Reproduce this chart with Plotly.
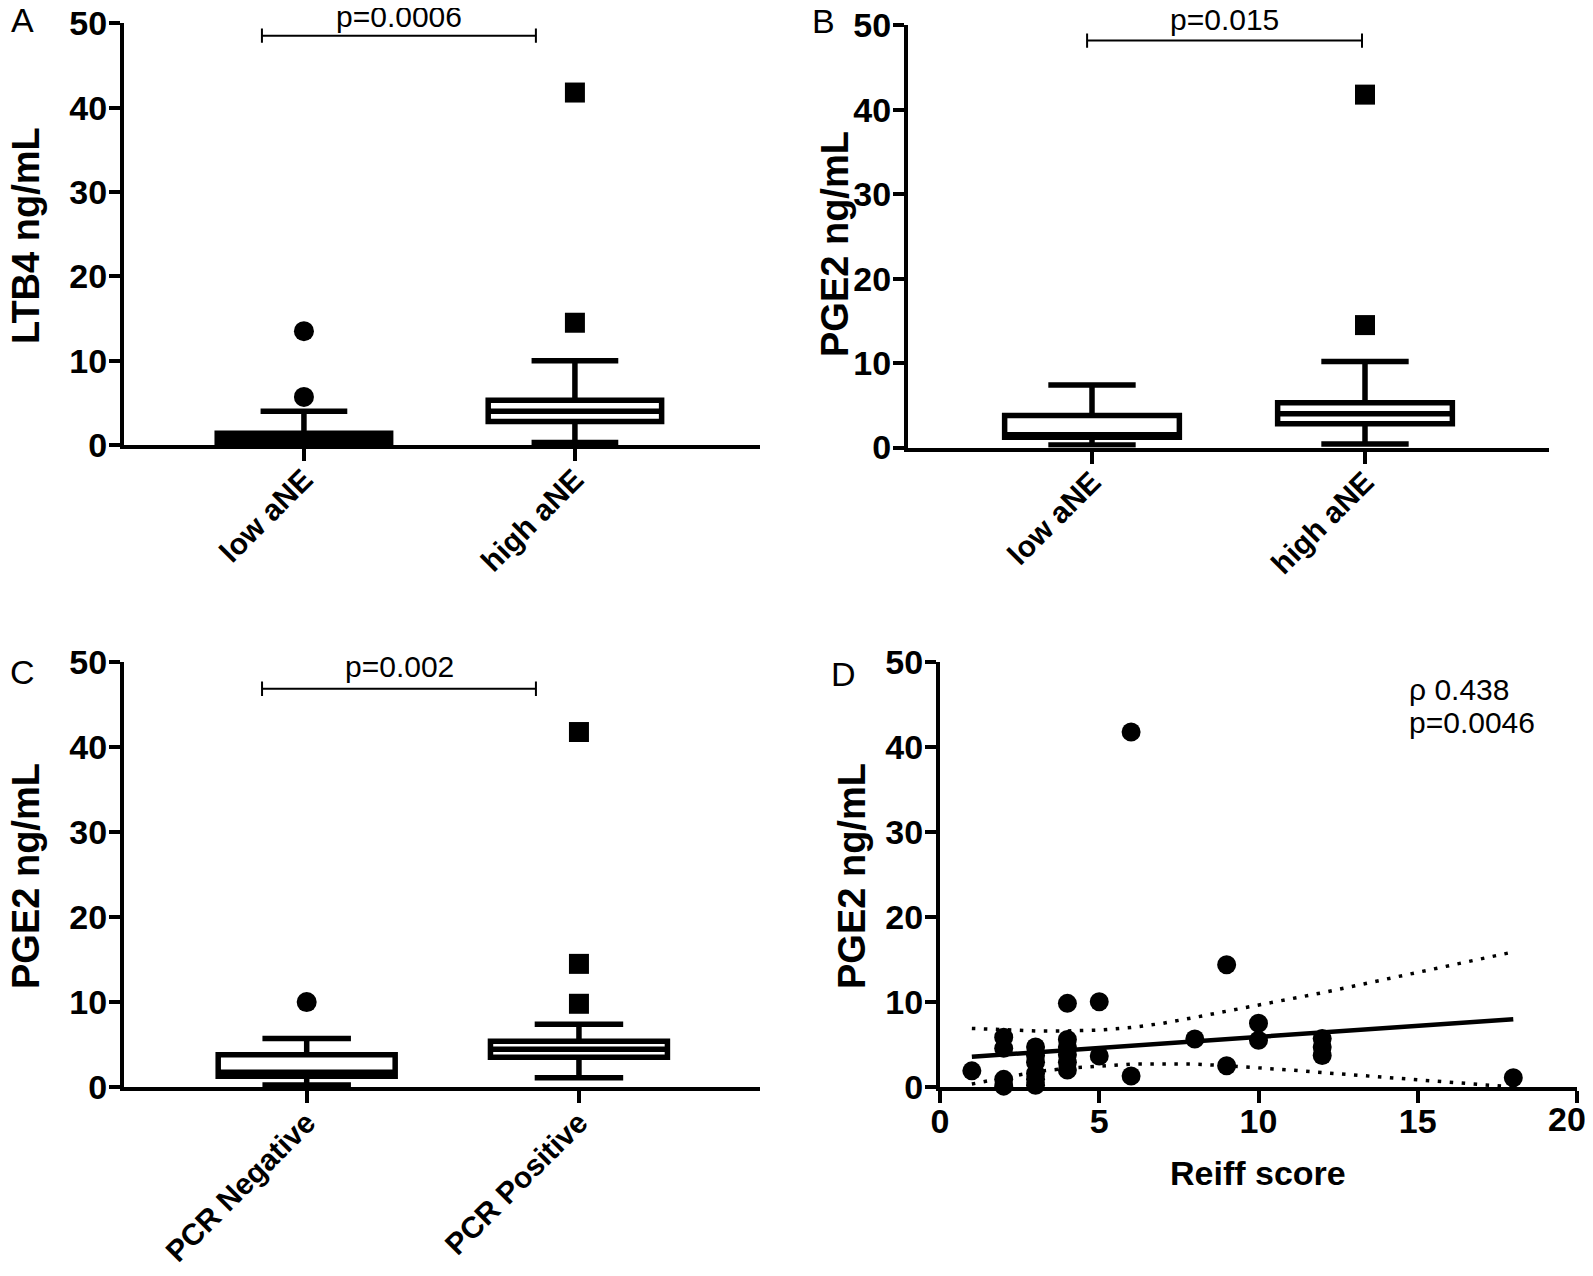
import plotly.graph_objects as go

# ---------------- data ----------------
ane_cats = ["low aNE", "high aNE"]
pcr_cats = ["PCR Negative", "PCR Positive"]
y_ticks = [0, 10, 20, 30, 40, 50]
reiff_ticks = [0, 5, 10, 15, 20]

# Panel A: LTB4 by aNE (low, high)
ltb4_q1 = [0.2, 2.8]
ltb4_median = [0.8, 4.0]
ltb4_q3 = [1.4, 5.3]
ltb4_lower = [0.05, 0.3]
ltb4_upper = [4.0, 10.0]
ltb4_out_low = [5.7, 13.5]
ltb4_out_high = [14.5, 41.8]

# Panel B: PGE2 by aNE (low, high)
pge2_ane_q1 = [1.2, 2.8]
pge2_ane_median = [1.5, 4.0]
pge2_ane_q3 = [3.8, 5.3]
pge2_ane_lower = [0.3, 0.4]
pge2_ane_upper = [7.4, 10.2]
pge2_ane_out_high = [14.5, 41.8]

# Panel C: PGE2 by PCR (negative, positive)
pge2_pcr_q1 = [1.26, 3.5]
pge2_pcr_median = [1.73, 4.45]
pge2_pcr_q3 = [3.8, 5.4]
pge2_pcr_lower = [0.25, 1.1]
pge2_pcr_upper = [5.7, 7.4]
pge2_pcr_out_neg = [10.0]
pge2_pcr_out_pos = [9.8, 14.5, 41.8]

# Panel D: PGE2 vs Reiff score
reiff = [1, 2, 2, 2, 2, 3, 3, 3, 3, 3, 3, 4, 4, 4, 4, 4, 4, 5, 5, 6, 6, 8, 9, 9, 10, 10, 12, 12, 12, 18]
pge2_reiff = [1.9, 5.85, 4.55, 0.9, 0.1, 4.7, 3.7, 2.9, 1.6, 0.9, 0.2, 9.85, 5.6, 4.7, 3.8, 2.9, 2.0,
              10.05, 3.65, 41.8, 1.3, 5.65, 14.4, 2.5, 7.5, 5.5, 5.7, 4.7, 3.7, 1.1]
fit_x = [1, 18]
fit_y = [3.57, 7.97]
ci_x = [1, 2, 3, 4, 5, 6, 7, 8, 9, 10, 11, 12, 13, 14, 15, 16, 17, 18]
ci_upper = [6.9, 6.7, 6.6, 6.6, 6.7, 7.0, 7.5, 8.2, 8.9, 9.6, 10.3, 11.1, 11.9, 12.7, 13.5, 14.3, 15.1, 15.9]
ci_lower = [0.35, 1.1, 1.8, 2.2, 2.5, 2.7, 2.7, 2.7, 2.5, 2.3, 2.0, 1.7, 1.4, 1.1, 0.8, 0.5, 0.2, 0.0]

# ---------------- layout helpers ----------------
OFF = 8            # default page margin around the figure
FW, FH = 1585, 1260


def px(x):
    return (x - OFF) / FW


def py(y):
    return min(1.0, max(0.0, 1 - (y - OFF) / FH))


FONT = "Liberation Sans, Arial, Helvetica, sans-serif"
BLACK = "black"

fig = go.Figure()


def add_box(ax, q1, med, q3, lo, hi, width):
    fig.add_trace(go.Box(
        x=[0, 1], q1=q1, median=med, q3=q3, lowerfence=lo, upperfence=hi,
        width=width, whiskerwidth=0.5, boxpoints=False,
        line=dict(color=BLACK, width=5.5), fillcolor="white",
        xaxis="x" + ax, yaxis="y" + ax, showlegend=False, hoverinfo="skip"))


def add_pts(ax, xpos, vals, symbol, size=20):
    fig.add_trace(go.Scatter(
        x=[xpos] * len(vals), y=vals, mode="markers",
        marker=dict(symbol=symbol, size=size, color=BLACK),
        xaxis="x" + ax, yaxis="y" + ax, showlegend=False, cliponaxis=False))


# Panel A
add_box("", ltb4_q1, ltb4_median, ltb4_q3, ltb4_lower, ltb4_upper, 0.64)
add_pts("", 0, ltb4_out_low, "circle")
add_pts("", 1, ltb4_out_high, "square")
# Panel B
add_box("2", pge2_ane_q1, pge2_ane_median, pge2_ane_q3, pge2_ane_lower, pge2_ane_upper, 0.64)
add_pts("2", 1, pge2_ane_out_high, "square")
# Panel C
add_box("3", pge2_pcr_q1, pge2_pcr_median, pge2_pcr_q3, pge2_pcr_lower, pge2_pcr_upper, 0.65)
add_pts("3", 0, pge2_pcr_out_neg, "circle")
add_pts("3", 1, pge2_pcr_out_pos, "square")
# Panel D
dot = dict(color=BLACK, width=3.5, dash="3.5px,8.5px")
fig.add_trace(go.Scatter(x=ci_x, y=ci_upper, mode="lines", line=dot,
                         xaxis="x4", yaxis="y4", showlegend=False))
fig.add_trace(go.Scatter(x=ci_x, y=ci_lower, mode="lines", line=dot,
                         xaxis="x4", yaxis="y4", showlegend=False))
fig.add_trace(go.Scatter(x=fit_x, y=fit_y, mode="lines", line=dict(color=BLACK, width=4.5),
                         xaxis="x4", yaxis="y4", showlegend=False))
fig.add_trace(go.Scatter(x=reiff, y=pge2_reiff, mode="markers",
                         marker=dict(symbol="circle", size=19, color=BLACK),
                         xaxis="x4", yaxis="y4", showlegend=False, cliponaxis=False))


def cat_xaxis(dom, rng, cats, anchor, standoff):
    return dict(domain=dom, range=rng, tickvals=[0, 1], ticktext=cats, tickangle=-45,
                ticks="outside", ticklen=12, tickwidth=4, tickcolor=BLACK,
                showline=True, linewidth=4, linecolor=BLACK, showgrid=False, zeroline=False,
                tickfont=dict(family=FONT, size=30, color=BLACK, weight="bold"),
                ticklabelstandoff=standoff, ticklabeloverflow="allow",
                automargin=False, anchor=anchor, fixedrange=True)


def val_yaxis(dom, anchor):
    return dict(domain=dom, range=[0, 50], tickvals=y_ticks,
                ticks="outside", ticklen=11, tickwidth=4, tickcolor=BLACK,
                showline=True, linewidth=4, linecolor=BLACK, showgrid=False, zeroline=False,
                tickfont=dict(family=FONT, size=34, color=BLACK, weight="bold"),
                ticklabelstandoff=-5, ticklabeloverflow="allow", automargin=False,
                anchor=anchor, fixedrange=True)


dom_top = [py(445), py(23.4)]
dom_topB = [py(447.5), py(25.4)]
dom_bot = [py(1087), py(662.4)]

# last Reiff tick label is placed as a text so that it stays inside the page
reiff_ticktext = [str(v) for v in reiff_ticks[:-1]] + [""]

layout = dict(
    width=FW, height=FH, margin=dict(l=0, r=0, t=0, b=0, pad=0, autoexpand=False),
    paper_bgcolor="white", plot_bgcolor="white",
    xaxis=cat_xaxis([px(124), px(760)], [-0.664, 1.683], ane_cats, "y", -11),
    yaxis=val_yaxis(dom_top, "x"),
    xaxis2=cat_xaxis([px(908), px(1549)], [-0.674, 1.674], ane_cats, "y2", -11),
    yaxis2=val_yaxis(dom_topB, "x2"),
    xaxis3=cat_xaxis([px(124), px(760)], [-0.671, 1.665], pcr_cats, "y3", -10),
    yaxis3=val_yaxis(dom_bot, "x3"),
    xaxis4=dict(domain=[px(940), px(1577)], range=[0, 20], tickvals=reiff_ticks,
                ticktext=reiff_ticktext,
                ticks="outside", ticklen=12, tickwidth=4, tickcolor=BLACK,
                showline=True, linewidth=4, linecolor=BLACK, showgrid=False, zeroline=False,
                tickfont=dict(family=FONT, size=34, color=BLACK, weight="bold"),
                ticklabelstandoff=-11, ticklabeloverflow="allow", automargin=False,
                anchor="y4", fixedrange=True),
    yaxis4=val_yaxis(dom_bot, "x4"),
)
fig.update_layout(**layout)

annos = []


def txt(x, y, s, size, bold=False, angle=0, xanchor="center", yanchor="middle"):
    annos.append(dict(x=px(x), y=py(y), xref="paper", yref="paper", text=s, showarrow=False,
                      textangle=angle, xanchor=xanchor, yanchor=yanchor,
                      font=dict(family=FONT, size=size, color=BLACK,
                                weight="bold" if bold else "normal")))


# panel letters
txt(22, 20, "A", 34)
txt(823, 21, "B", 34)
txt(22, 672, "C", 34)
txt(843, 674, "D", 34)
# y titles
txt(26, 236, "LTB4 ng/mL", 38, bold=True, angle=-90)
txt(835, 244, "PGE2 ng/mL", 38, bold=True, angle=-90)
txt(26, 876, "PGE2 ng/mL", 38, bold=True, angle=-90)
txt(852, 876, "PGE2 ng/mL", 38, bold=True, angle=-90)
# last Reiff tick label
txt(1567, 1119, str(reiff_ticks[-1]), 34, bold=True)
# x title D
txt(1258, 1173, "Reiff score", 34, bold=True)
# correlation text
txt(1407, 689, "ρ 0.438", 30, xanchor="left")
txt(1407, 722, "p=0.0046", 30, xanchor="left")
# p-values
txt(399, 17, "p=0.0006", 30)
txt(1224, 20, "p=0.015", 30)
txt(399, 666, "p=0.002", 30)

# significance brackets (data coords of each panel)
brackets = [
    ("", -0.155, 0.856, 48.55),
    ("2", -0.018, 0.989, 48.2),
    ("3", -0.164, 0.842, 46.9),
]
shapes = []
for ax, x0, x1, yb in brackets:
    xr, yr = "x" + ax, "y" + ax
    ln = dict(color=BLACK, width=2)
    shapes.append(dict(type="line", xref=xr, yref=yr, x0=x0, x1=x1, y0=yb, y1=yb, line=ln))
    shapes.append(dict(type="line", xref=xr, yref=yr, x0=x0, x1=x0, y0=yb - 0.85, y1=yb + 0.85, line=ln))
    shapes.append(dict(type="line", xref=xr, yref=yr, x0=x1, x1=x1, y0=yb - 0.85, y1=yb + 0.85, line=ln))

fig.update_layout(annotations=annos, shapes=shapes)

fig.write_html("out.html")
